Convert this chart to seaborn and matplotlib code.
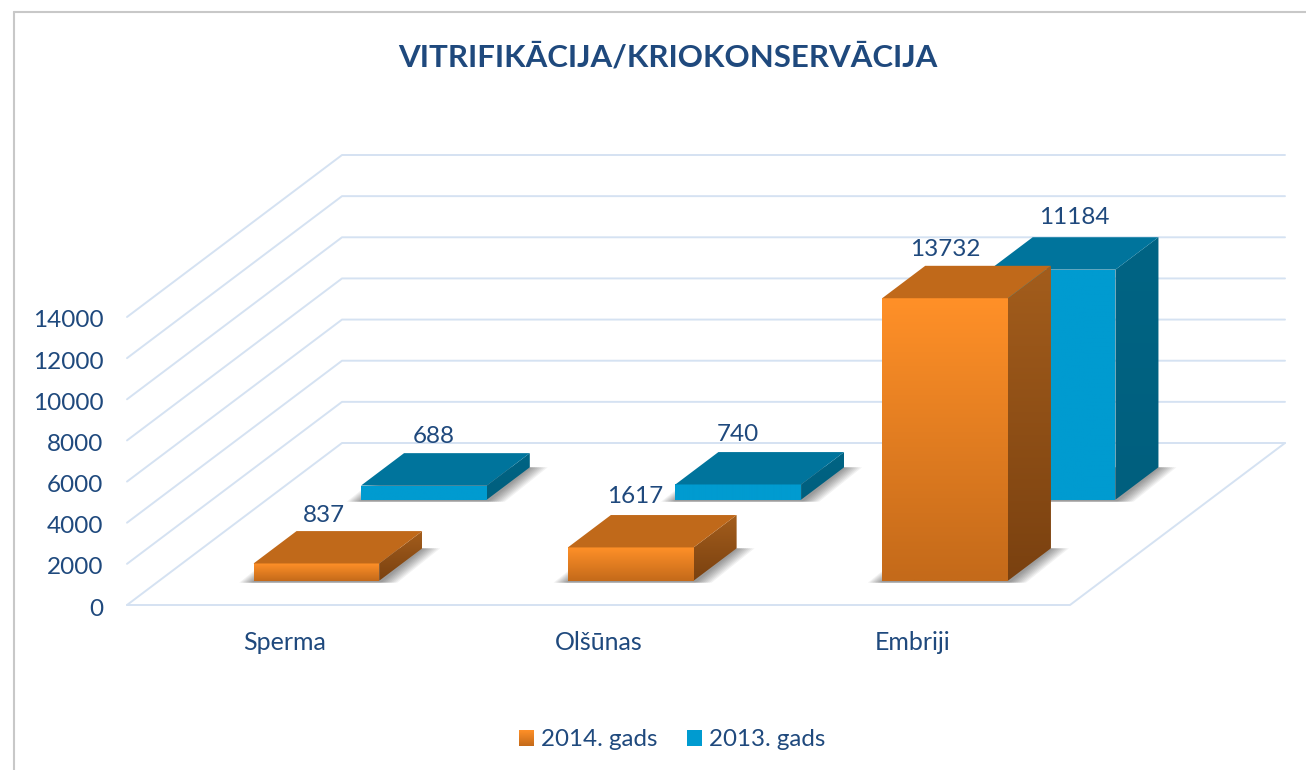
import numpy as np
import pandas as pd
import seaborn as sns
import matplotlib.pyplot as plt
from matplotlib.colors import to_rgb
from matplotlib.lines import Line2D
from matplotlib.patches import Polygon
from matplotlib.transforms import Affine2D, IdentityTransform

# Chart values
categories = ['Sperma', 'Olšūnas', 'Embriji']
values_2014 = [837, 1617, 13732]
values_2013 = [688, 740, 11184]
series_names = ['2014. gads', '2013. gads']
y_ticks = [0, 2000, 4000, 6000, 8000, 10000, 12000, 14000]

# Value label nudges in pixels (x shift, gap above the top face)
label_nudge_2014 = [(8, 17), (4, 20), (0, 17)]
label_nudge_2013 = [(10, 18), (0, 19), (22, 21)]

TEXT = '#1F497D'
GRID = '#D5E2F2'
W, H = 1306, 770

# Floor depth in pixels, and where each row of bars sits on the floor
DEPTH_X, DEPTH_Y = 215, 162
ROW_2014, ROW_2013, BAR_DEPTH = 0.15, 0.65, 0.2

df = pd.DataFrame({
    'Kategorija': categories * 2,
    'Skaits': values_2014 + values_2013,
    'Gads': [series_names[0]] * 3 + [series_names[1]] * 3,
})

sns.set_theme(style='white')
plt.rcParams['font.family'] = ['Lato', 'DejaVu Sans']

fig = plt.figure(figsize=(W / 100, H / 100), dpi=100)
ax = fig.add_axes([127 / W, (H - 605) / H, 943 / W, 288 / H])
ax.patch.set_alpha(0)

sns.barplot(data=df, x='Kategorija', y='Skaits', hue='Gads', hue_order=series_names,
            palette=['#FF9028', '#009BD0'], dodge=False, width=0.4, saturation=1,
            linewidth=0, ax=ax)

ax.autoscale(False)
ax.set_xlim(-0.5, 2.5)
ax.set_ylim(0, 14000)
ax.set_yticks(y_ticks)
ax.set_xlabel('')
ax.set_ylabel('')
ax.tick_params(axis='x', length=0, pad=19, labelsize=18, labelcolor=TEXT)
ax.tick_params(axis='y', length=0, pad=17, labelsize=17.5, labelcolor=TEXT)
sns.despine(ax=ax, left=True, bottom=True)
for t in ax.get_yticklabels():
    t.set_transform(t.get_transform() + Affine2D().translate(0, -2))

px = IdentityTransform()


def project(x, v, d):
    # data position plus depth along the floor, in figure pixels
    p = ax.transData.transform((x, v))
    return p[0] + DEPTH_X * d, p[1] + DEPTH_Y * d


def gradient_poly(pts, top, bottom, z):
    pts = np.array(pts)
    ramp = np.linspace(np.array(to_rgb(top)), np.array(to_rgb(bottom)), 64)[:, None, :]
    im = ax.imshow(ramp, aspect='auto', interpolation='bilinear', zorder=z, transform=px,
                   extent=(pts[:, 0].min(), pts[:, 0].max(), pts[:, 1].min(), pts[:, 1].max()))
    im.set_clip_box(fig.bbox)
    im.set_clip_path(Polygon(pts, closed=True, transform=px))


# Walls and floor
for v in y_ticks:
    pts = [project(-0.5, v, 0), project(-0.5, v, 1), project(2.5, v, 1)]
    ax.add_line(Line2D(*zip(*pts), color=GRID, lw=1.4, transform=px, clip_on=False, zorder=1))
pts = [project(-0.5, 0, 0), project(2.5, 0, 0), project(2.5, 0, 1)]
ax.add_line(Line2D(*zip(*pts), color=GRID, lw=1.4, transform=px, clip_on=False, zorder=1))


def draw_row(container, row, values, nudges, top_col, side_top, side_bot, face_top, face_bot, z):
    for bar, value, nudge in zip(container, values, nudges):
        x0, x1 = bar.get_x(), bar.get_x() + bar.get_width()
        d0, d1 = row, row + BAR_DEPTH

        # soft shadow on the floor, wider layer by layer
        base = [project(x0, 0, d0), project(x1, 0, d0), project(x1, 0, d1), project(x0, 0, d1)]
        for e in range(2, 20, 2):
            p = [(base[0][0] - e * 0.8, base[0][1] - 2), (base[1][0] + e, base[1][1] - 2),
                 (base[2][0] + e, base[2][1]), (base[3][0] - e * 0.8, base[3][1])]
            ax.add_patch(Polygon(p, closed=True, fc='black', ec='none', alpha=0.05,
                                 transform=px, clip_on=False, zorder=z))

        # front face comes from seaborn, moved back to its row on the floor
        bar.set_transform(ax.transData + Affine2D().translate(DEPTH_X * d0, DEPTH_Y * d0))
        bar.set_clip_on(False)
        bar.set_zorder(z + 0.1)
        front = [project(x0, 0, d0), project(x1, 0, d0), project(x1, value, d0), project(x0, value, d0)]
        gradient_poly(front, face_top, face_bot, z + 0.2)

        # side and top faces
        side = [project(x1, 0, d0), project(x1, 0, d1), project(x1, value, d1), project(x1, value, d0)]
        gradient_poly(side, side_top, side_bot, z + 0.3)
        top = [project(x0, value, d0), project(x1, value, d0), project(x1, value, d1), project(x0, value, d1)]
        ax.add_patch(Polygon(top, closed=True, fc=top_col, ec='none', transform=px,
                             clip_on=False, zorder=z + 0.4))

        cx = project((x0 + x1) / 2, value, d0)[0]
        cy = project(x0, value, d1)[1]
        ax.text(cx + nudge[0], cy + nudge[1] - 1, str(value), color=TEXT, fontsize=17.5, ha='center',
                va='center', transform=px, clip_on=False, zorder=20)


draw_row(ax.containers[1], ROW_2013, values_2013, label_nudge_2013,
         '#00749C', '#006484', '#005F7E', '#009BD0', '#009BD0', 2)
draw_row(ax.containers[0], ROW_2014, values_2014, label_nudge_2014,
         '#C0691A', '#A35D1C', '#7A4110', '#FF9028', '#C46A1A', 5)

# Legend, the orange swatch gets the same ramp as its bars
handles = [ax.containers[0][0], ax.containers[1][0]]
leg = ax.legend(handles, series_names, loc='center', bbox_to_anchor=(672 / W, 1 - 740 / H),
                bbox_transform=fig.transFigure, ncol=2, frameon=False, fontsize=17.4,
                labelcolor=TEXT, handlelength=0.62, handleheight=0.62, handletextpad=0.3,
                columnspacing=1.2)
fig.canvas.draw()
box = leg.legend_handles[0].get_window_extent()
gradient_poly([(box.x0, box.y0), (box.x1, box.y0), (box.x1, box.y1), (box.x0, box.y1)],
              '#FF9028', '#C46A1A', 30)

# Outer chart frame, cut off by the edge of the picture
fig.add_artist(Line2D([14 / W, 14 / W], [0, 1 - 12 / H], color='#C8C8C8', lw=1.5))
fig.add_artist(Line2D([14 / W, 1], [1 - 12 / H, 1 - 12 / H], color='#C8C8C8', lw=1.5))

fig.suptitle('VITRIFIKĀCIJA/KRIOKONSERVĀCIJA', x=668 / W, y=1 - 57 / H, va='center',
             fontsize=22.5, fontweight='bold', color=TEXT)

fig.savefig('out.png', dpi=100)
